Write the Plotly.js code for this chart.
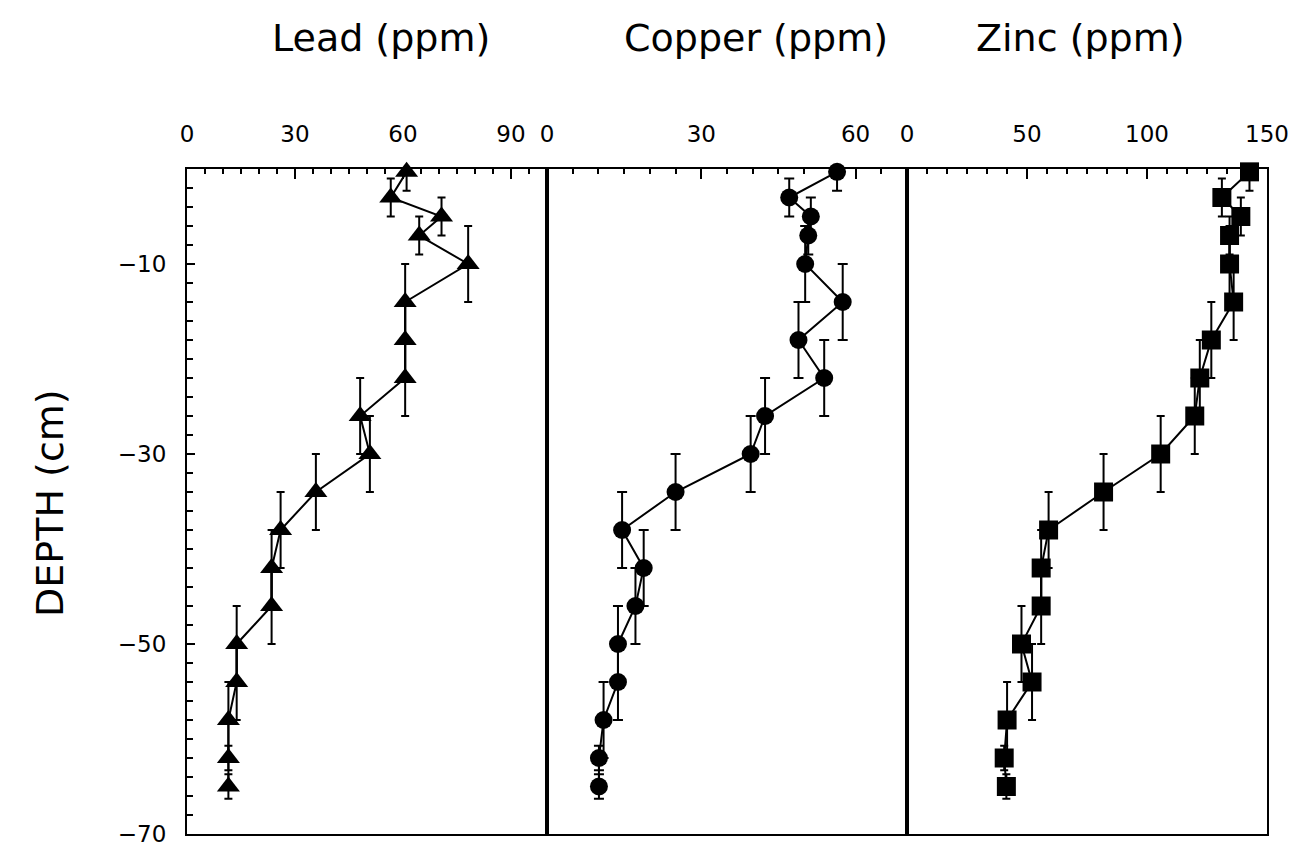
<!DOCTYPE html>
<html>
<head>
<meta charset="utf-8">
<script src="https://cdn.plot.ly/plotly-3.0.1.min.js"></script>
<style>html,body{margin:0;padding:0;background:#fff}#chart{width:1299px;height:851px}</style>
</head>
<body>
<div id="chart"></div>
<script>
// Depth of each sample (cm)
const depth = [-0.3, -3, -5, -7, -10, -14, -18, -22, -26, -30, -34, -38, -42, -46, -50, -54, -58, -62, -65];
// Vertical error bars (cm)
const depthErr = [2, 2, 2, 2, 4, 4, 4, 4, 4, 4, 4, 4, 4, 4, 4, 4, 4, 1.3, 1.3];
// Concentrations (ppm)
const lead   = [61.0, 56.6, 70.7, 64.5, 78.1, 60.6, 60.6, 60.6, 48.1, 50.8, 35.8, 26.0, 23.5, 23.5, 13.8, 13.8, 11.5, 11.5, 11.5];
const copper = [56.4, 47.1, 51.3, 50.8, 50.2, 57.5, 48.9, 53.9, 42.4, 39.6, 25.0, 14.6, 18.8, 17.2, 13.8, 13.8, 11.0, 10.1, 10.1];
const zinc   = [142.7, 131.2, 139.1, 134.4, 134.4, 136.1, 126.8, 122.0, 119.9, 105.7, 81.9, 59.0, 55.9, 55.9, 47.7, 52.1, 41.7, 40.5, 41.4];
// Tick labels
const leadTicks = [0, 30, 60, 90];
const copperTicks = [0, 30, 60];
const zincTicks = [0, 50, 100, 150];
const depthTicks = [-10, -30, -50, -70];
const titles = ['Lead (ppm)', 'Copper (ppm)', 'Zinc (ppm)'];
const yTitle = 'DEPTH (cm)';

function trace(xv, xa, ya, sym, size, capw) {
  return {
    x: xv, y: depth, xaxis: xa, yaxis: ya,
    type: 'scatter', mode: 'lines+markers',
    line: {color: 'black', width: 2},
    marker: {symbol: sym, size: size, color: 'black', line: {width: 0}},
    error_y: {type: 'data', array: depthErr, visible: true, color: 'black', thickness: 2, width: capw},
    cliponaxis: false,
    hoverinfo: 'skip'
  };
}

const data = [
  trace(lead, 'x', 'y', 'triangle-up', 20, 4),
  trace(copper, 'x2', 'y2', 'circle', 18, 5),
  trace(zinc, 'x3', 'y3', 'square', 19, 4)
];

function xAxis(dom, anchor, range, ticks, minorDt) {
  return {
    domain: dom, anchor: anchor, side: 'top', range: range,
    tickmode: 'array', tickvals: ticks, ticktext: ticks.map(String),
    ticks: 'inside', ticklen: 10, tickwidth: 2, tickcolor: 'black',
    minor: {tickmode: 'linear', tick0: 0, dtick: minorDt, ticks: 'inside', ticklen: 5, tickwidth: 2, tickcolor: 'black', showgrid: false},
    showline: true, linewidth: 2, linecolor: 'black', mirror: true,
    showgrid: false, zeroline: false, fixedrange: true,
    ticklabelstandoff: 16,
    tickfont: {family: 'DejaVu Sans', size: 23, color: 'black'}
  };
}

const yBase = {
  range: [-70, 0], showline: true, linewidth: 2, linecolor: 'black', mirror: true,
  showgrid: false, zeroline: false, fixedrange: true
};

const titleFont = {family: 'DejaVu Sans', size: 38, color: 'black'};

const layout = {
  width: 1299, height: 851,
  margin: {l: 187, r: 32, t: 169, b: 17, pad: 0},
  paper_bgcolor: 'white', plot_bgcolor: 'white',
  showlegend: false,
  font: {family: 'DejaVu Sans', size: 23, color: 'black'},
  xaxis: xAxis([0, 1/3], 'y', [0, 100], leadTicks, 5),
  xaxis2: xAxis([1/3, 2/3], 'y2', [0, 70], copperTicks, 5),
  xaxis3: xAxis([2/3, 1], 'y3', [0, 150], zincTicks, 50/6),
  yaxis: Object.assign({}, yBase, {
    anchor: 'x',
    tickmode: 'array', tickvals: depthTicks, ticktext: depthTicks.map(v => '\u2212' + Math.abs(v)),
    ticks: 'inside', ticklen: 8, tickwidth: 2, tickcolor: 'black',
    minor: {tickmode: 'linear', tick0: 0, dtick: 2, ticks: 'inside', ticklen: 6, tickwidth: 2, tickcolor: 'black', showgrid: false},
    ticklabelstandoff: 14,
    tickfont: {family: 'DejaVu Sans', size: 23, color: 'black'}
  }),
  yaxis2: Object.assign({}, yBase, {anchor: 'x2', matches: 'y', showticklabels: false, ticks: ''}),
  yaxis3: Object.assign({}, yBase, {anchor: 'x3', matches: 'y', showticklabels: false, ticks: ''}),
  annotations: [
    {text: titles[0], xref: 'paper', yref: 'paper', x: 0.1796, y: 1.197, xanchor: 'center', yanchor: 'middle', showarrow: false, font: titleFont},
    {text: titles[1], xref: 'paper', yref: 'paper', x: 0.5269, y: 1.197, xanchor: 'center', yanchor: 'middle', showarrow: false, font: titleFont},
    {text: titles[2], xref: 'paper', yref: 'paper', x: 0.8269, y: 1.197, xanchor: 'center', yanchor: 'middle', showarrow: false, font: titleFont},
    {text: yTitle, xref: 'paper', yref: 'paper', x: -0.1269, y: 0.4977, xanchor: 'center', yanchor: 'middle', textangle: -90, showarrow: false, font: titleFont}
  ]
};

Plotly.newPlot('chart', data, layout, {displayModeBar: false, staticPlot: true});
</script>
</body>
</html>
